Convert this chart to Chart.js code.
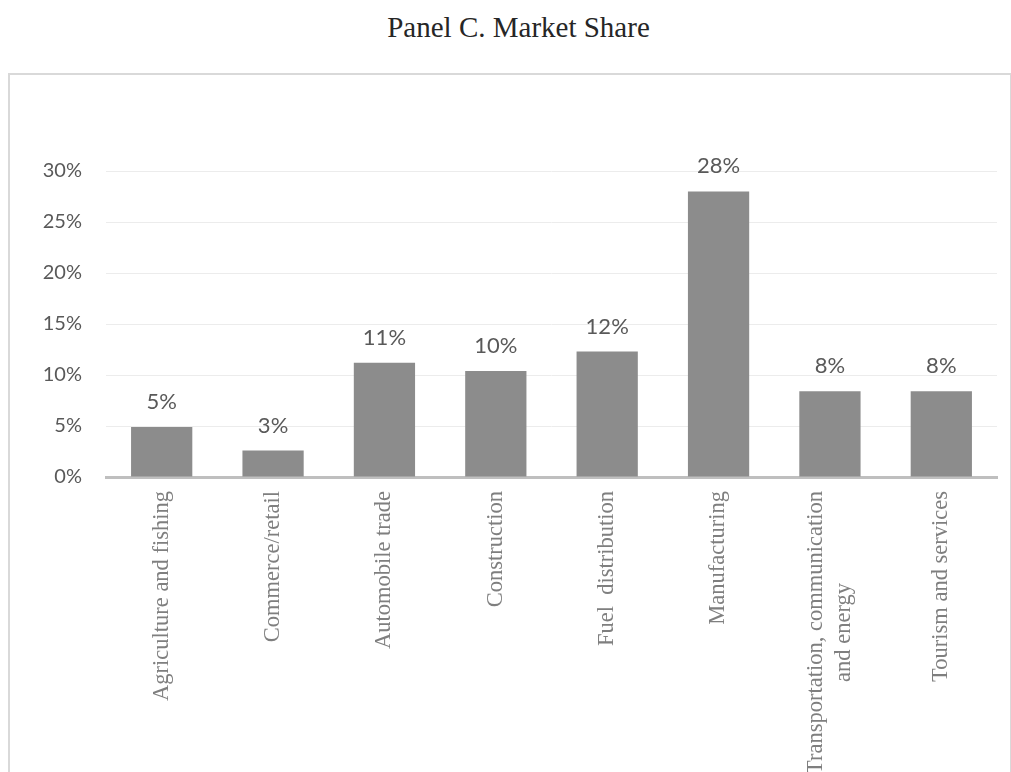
<!DOCTYPE html>
<html>
<head>
<meta charset="utf-8">
<script src="https://cdn.jsdelivr.net/npm/chart.js@4/dist/chart.umd.min.js"></script>
<style>
  html, body { margin: 0; padding: 0; background: #fff; overflow: hidden; }
  body { width: 1011px; height: 772px; position: relative; }
  .title {
    position: absolute; left: 0; top: 13px; width: 1037px;
    text-align: center; font: 29px/29px "Liberation Serif", "Times New Roman", serif;
    color: #262626;
  }
  .frame {
    position: absolute; left: 8px; top: 73px;
    width: 1000px; height: 697px;
    border: 2px solid #d9d9d9;
  }
</style>
</head>
<body>
<div class="title">Panel C. Market Share</div>
<div class="frame">
  <canvas id="canvas" width="1000" height="697"></canvas>
</div>
<script>
// sectors and their share of the market, in percent
const sectors = [
  'Agriculture and fishing',
  'Commerce/retail',
  'Automobile trade',
  'Construction',
  'Fuel  distribution',
  'Manufacturing',
  ['Transportation, communication', 'and energy'],
  'Tourism and services'
];
const shares = [4.9, 2.6, 11.2, 10.4, 12.3, 28.0, 8.4, 8.4];
const yMin = 0;
const yMax = 30;
const yStep = 5;

// percent label above every bar
const valueLabels = {
  id: 'valueLabels',
  afterDatasetsDraw(chart) {
    var ctx = chart.ctx;
    var meta = chart.getDatasetMeta(0);
    var data = chart.data.datasets[0].data;
    ctx.save();
    ctx.font = '22px Lato';
    ctx.fillStyle = '#595959';
    ctx.textAlign = 'center';
    ctx.textBaseline = 'middle';
    meta.data.forEach((bar, i) => {
      ctx.fillText(Math.round(data[i]) + '%', bar.x, bar.y - 25);
    });
    ctx.restore();
  }
};

// vertical category names, multi-line ones centred on the tick
const sectorLabels = {
  id: 'sectorLabels',
  afterDraw(chart) {
    var ctx = chart.ctx;
    var scale = chart.scales.x;
    var lh = 28;
    ctx.save();
    ctx.font = '22.5px "Liberation Serif"';
    ctx.fillStyle = '#7f7f7f';
    ctx.textBaseline = 'middle';
    ctx.textAlign = 'center';
    chart.data.labels.forEach((label, i) => {
      var lines = Array.isArray(label) ? label : [label];
      var w = Math.max(...lines.map(l => ctx.measureText(l).width));
      ctx.save();
      ctx.translate(scale.getPixelForTick(i), scale.top + 14);
      ctx.rotate(-Math.PI / 2);
      lines.forEach((line, j) => {
        ctx.fillText(line, -w / 2, (j - (lines.length - 1) / 2) * lh);
      });
      ctx.restore();
    });
    ctx.restore();
  }
};

var ctx = document.getElementById('canvas').getContext('2d');
var chart = new Chart(ctx, {
  type: 'bar',
  data: {
    labels: sectors,
    datasets: [{
      data: shares,
      backgroundColor: '#8c8c8c',
      borderWidth: 0,
      barPercentage: 0.55,
      categoryPercentage: 1
    }]
  },
  options: {
    responsive: false,
    animation: false,
    layout: { padding: { top: 96, left: 0, right: 13, bottom: 0 } },
    plugins: {
      legend: { display: false },
      tooltip: { enabled: false }
    },
    scales: {
      x: {
        grid: { display: false, drawTicks: false },
        border: { display: true, color: '#bfbfbf', width: 3 },
        ticks: { display: false },
        afterFit: scale => { scale.height = 295 }
      },
      y: {
        min: yMin,
        max: yMax,
        grid: { color: '#ececec', lineWidth: 1, drawTicks: false },
        border: { display: false },
        ticks: {
          stepSize: yStep,
          padding: 24,
          color: '#595959',
          font: { family: 'Lato', size: 20 },
          callback: v => v + '%'
        },
        afterFit: scale => { scale.width = 96 }
      }
    }
  },
  plugins: [valueLabels, sectorLabels]
});
</script>
</body>
</html>
